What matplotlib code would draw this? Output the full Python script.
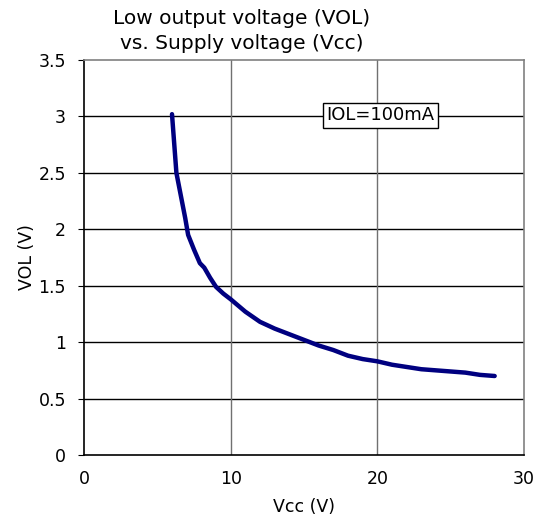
import numpy as np
import matplotlib.pyplot as plt

# Vcc (V) vs VOL (V)
vcc = [6.0, 6.3, 6.6, 6.9, 7.1, 7.5, 7.9, 8.2, 8.6, 9.0, 9.5, 10.0, 11.0, 12.0,
       13.0, 14.0, 15.0, 16.0, 17.0, 18.0, 19.0, 20.0, 21.0, 22.0, 23.0, 24.0,
       25.0, 26.0, 27.0, 28.0]
vol = [3.02, 2.50, 2.30, 2.10, 1.95, 1.82, 1.70, 1.66, 1.57, 1.49, 1.43, 1.38,
       1.27, 1.18, 1.12, 1.07, 1.02, 0.97, 0.93, 0.88, 0.85, 0.83, 0.80, 0.78,
       0.76, 0.75, 0.74, 0.73, 0.71, 0.70]

x_ticks = [0, 10, 20, 30]
y_ticks = [0, 0.5, 1, 1.5, 2, 2.5, 3, 3.5]
y_tick_labels = ["0", "0.5", "1", "1.5", "2", "2.5", "3", "3.5"]

plt.rcParams['font.family'] = ['DejaVu Sans']

fig = plt.figure(figsize=(5.47, 5.22), dpi=100)
ax = fig.add_axes([84 / 547, 67 / 522, 440 / 547, 395 / 522])

ax.set_xlim(0, 30)
ax.set_ylim(0, 3.5)
ax.set_xticks(x_ticks)
ax.set_yticks(y_ticks)
ax.set_yticklabels(y_tick_labels)

# grid: black horizontals, grey verticals
for y in y_ticks[1:-1]:
    ax.axhline(y, color='black', lw=1.0, zorder=1)
for x in x_ticks[1:-1]:
    ax.axvline(x, color='#707070', lw=1.0, zorder=1)

ax.plot(vcc, vol, color='#000080', lw=3.2, solid_capstyle='round', zorder=3)

for s in ['left', 'bottom']:
    ax.spines[s].set_color('black')
    ax.spines[s].set_linewidth(1.2)
for s in ['right', 'top']:
    ax.spines[s].set_color('#808080')
    ax.spines[s].set_linewidth(1.2)

ax.tick_params(axis='y', direction='out', length=4, labelsize=12.5, pad=9)
ax.tick_params(axis='x', direction='out', length=0, labelsize=12.5, pad=11)

ax.set_xlabel("Vcc (V)", fontsize=12.5, labelpad=7)
ax.set_ylabel("VOL (V)", fontsize=12.5, labelpad=2)

ax.text(20.2, 3.01, "IOL=100mA", fontsize=13, ha='center', va='center',
        bbox=dict(boxstyle='square,pad=0.2', fc='white', ec='black', lw=1.0),
        zorder=4)

fig.text(242 / 547, 1 - 31 / 522, "Low output voltage (VOL)\nvs. Supply voltage (Vcc)",
         ha='center', va='center', fontsize=14.5, linespacing=1.35)

fig.savefig("out.png", dpi=100)
